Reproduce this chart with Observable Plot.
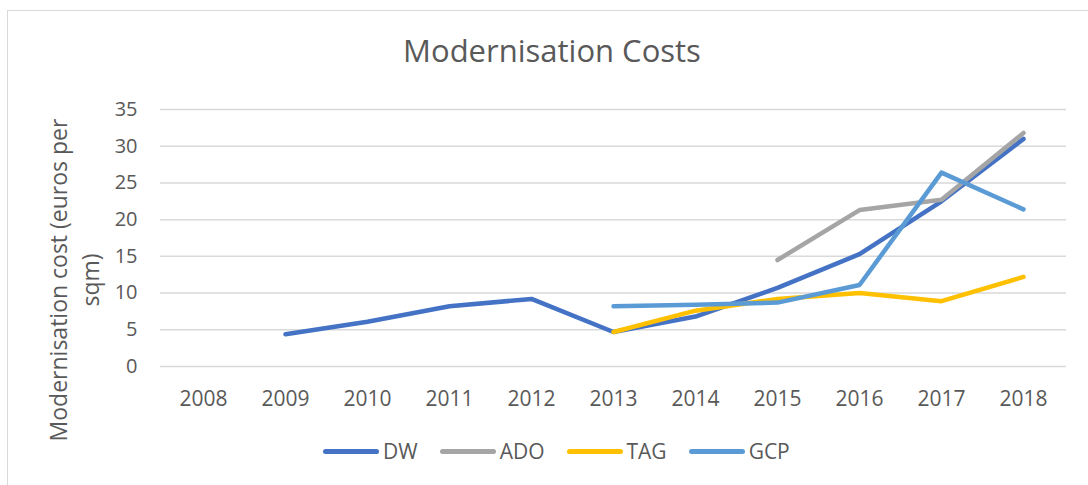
<!DOCTYPE html>
<html>
<head>
<meta charset="utf-8">
<script src="https://cdn.jsdelivr.net/npm/d3@7"></script>
<script src="https://cdn.jsdelivr.net/npm/@observablehq/plot@0.6"></script>
<style>
  html, body { margin: 0; padding: 0; background: #fff; }
  #wrap { position: relative; width: 1088px; height: 485px; overflow: hidden; font-family: "Open Sans", sans-serif; color: #595959; }
  #frame { position: absolute; left: 7px; top: 10px; width: 1200px; height: 600px; border-left: 1.5px solid #D9D9D9; border-top: 1.5px solid #D9D9D9; }
  #title { position: absolute; left: 0; width: 1104px; top: 30px; text-align: center; font-size: 31px; line-height: 40px; }
  #chart { position: absolute; left: 0; top: 80px; }
  #ylabel { position: absolute; left: 74px; top: 280px; width: 400px; transform: translate(-50%, -50%) rotate(-90deg); text-align: center; font-size: 23px; line-height: 32px; white-space: nowrap; }
  #legend { position: absolute; left: 323px; top: 436px; display: flex; gap: 22px; font-size: 21px; line-height: 30px; }
  .item { display: flex; align-items: center; gap: 4px; }
  .swatch { width: 56px; height: 5px; border-radius: 3px; }
</style>
</head>
<body>
<div id="wrap">
  <div id="frame"></div>
  <div id="title">Modernisation Costs</div>
  <div id="chart"></div>
  <div id="ylabel">Modernisation cost (euros per<br>sqm)</div>
  <div id="legend"></div>
</div>
<script>
const years = ["2008","2009","2010","2011","2012","2013","2014","2015","2016","2017","2018"];
const seriesNames = ["DW","ADO","TAG","GCP"];
const seriesColors = ["#4472C4","#A5A5A5","#FFC000","#5B9BD5"];
const DW  = [null, 4.4, 6.1, 8.2, 9.2, 4.7, 6.8, 10.7, 15.3, 22.5, 31.0];
const ADO = [null, null, null, null, null, null, null, 14.5, 21.3, 22.7, 31.8];
const TAG = [null, null, null, null, null, 4.7, 7.6, 9.2, 10.0, 8.9, 12.2];
const GCP = [null, null, null, null, null, 8.2, 8.4, 8.7, 11.1, 26.4, 21.4];
const yTicks = [0, 5, 10, 15, 20, 25, 30, 35];

const valuesBySeries = [DW, ADO, TAG, GCP];
const data = [];
seriesNames.forEach((name, i) => {
  valuesBySeries[i].forEach((v, j) => {
    if (v !== null) data.push({series: name, year: years[j], value: v});
  });
});

const chart = Plot.plot({
  width: 1088,
  height: 340,
  marginTop: 29,
  marginBottom: 54,
  marginLeft: 160,
  marginRight: 22,
  style: {fontFamily: "Open Sans, sans-serif", color: "#595959", background: "transparent"},
  x: {type: "point", domain: years, padding: 0.5, label: null},
  y: {domain: [0, 35], ticks: yTicks, label: null},
  color: {domain: seriesNames, range: seriesColors},
  marks: [
    Plot.ruleY(yTicks, {stroke: "#D9D9D9", strokeWidth: 1.5}),
    Plot.axisY({ticks: yTicks, tickSize: 0, tickPadding: 23, fontSize: 20, label: null, fill: "#595959"}),
    Plot.axisX({tickSize: 0, tickPadding: 25, fontSize: 21, label: null, fill: "#595959"}),
    Plot.line(data, {x: "year", y: "value", z: "series", stroke: "series", strokeWidth: 4.5, strokeLinecap: "round", strokeLinejoin: "round"})
  ]
});
document.getElementById("chart").appendChild(chart);

const legend = document.getElementById("legend");
seriesNames.forEach((name, i) => {
  const item = document.createElement("div");
  item.className = "item";
  const sw = document.createElement("div");
  sw.className = "swatch";
  sw.style.background = seriesColors[i];
  const label = document.createElement("span");
  label.textContent = name;
  item.appendChild(sw);
  item.appendChild(label);
  legend.appendChild(item);
});
</script>
</body>
</html>
